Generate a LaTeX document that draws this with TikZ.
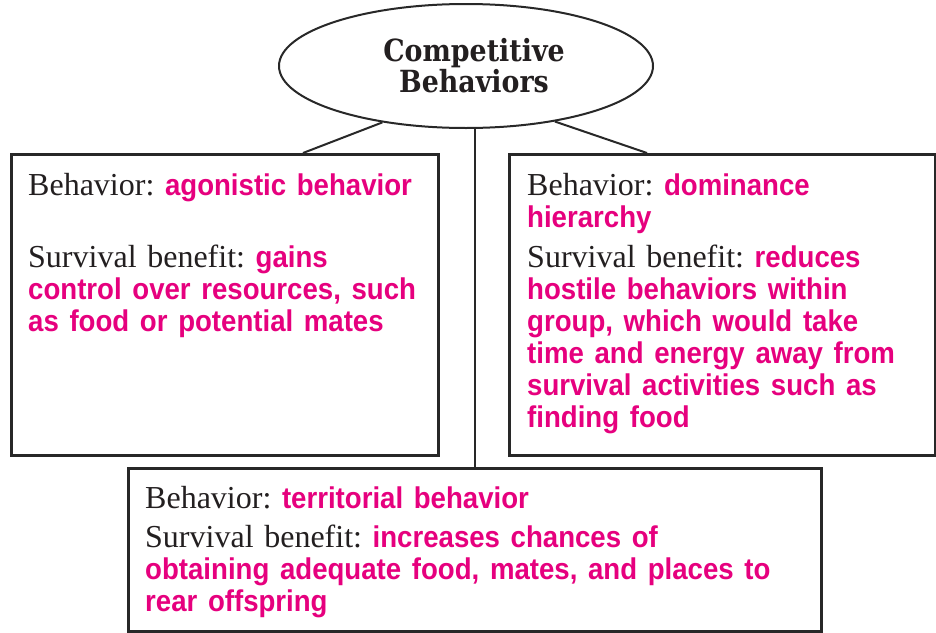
\documentclass[tikz,border=0pt]{standalone}
\usepackage{fontspec}
\setmainfont{Liberation Serif}
\newfontfamily\pinkfont{Liberation Sans}[FakeStretch=0.92]
\newfontfamily\titlefont{DejaVu Serif}[FakeStretch=0.88]
\usetikzlibrary{shapes.geometric,calc}
\definecolor{accent}{RGB}{230,0,126}
\definecolor{ink}{RGB}{35,31,32}
\definecolor{frame}{RGB}{40,40,40}
\frenchspacing
\newcommand{\pk}[1]{{\pinkfont\bfseries\fontsize{30}{32}\selectfont\color{accent}#1}}
\tikzset{
  boxnode/.style={draw=frame, line width=2.6pt, rectangle, anchor=north west, inner sep=0pt},
  txt/.style={anchor=base west, inner sep=0pt, text width=420pt, align=left,
    font=\frenchspacing\fontsize{32}{32}\selectfont, text=ink},
  link/.style={draw=frame, line width=2pt}
}
\begin{document}
\begin{tikzpicture}[x=1pt,y=-1pt]
\useasboundingbox[fill=white] (0,0) rectangle (936,632);
% boxes
\node[boxnode, minimum width=427pt, minimum height=301pt] (L) at (10,153) {};
\node[boxnode, minimum width=426pt, minimum height=301pt] (R) at (508,153) {};
\node[boxnode, minimum width=693pt, minimum height=163pt] (B) at (127,467) {};
% title ellipse
\node[ellipse, draw=frame, line width=2pt, fill=white, minimum width=374pt, minimum height=124pt,
  inner sep=0pt] (top) at (466,66) {};
\node[align=center, text=ink, inner sep=0pt,
  font=\titlefont\bfseries\fontsize{30.5}{31}\selectfont] (title) at (474,66) {Competitive\\Behaviors};
% connectors
\coordinate (Lj) at ($(L.north west)+(293pt,0)$);
\coordinate (Rj) at ($(R.north west)+(139pt,0)$);
\draw[link] (top.214) -- (Lj);
\draw[link] (top.328) -- (Rj);
\draw[link] (B.north) -- (B.north |- top.south);
% texts
\node[txt] (L1) at (28,195) {Behavior: \pk{agonistic behavior}};
\node[txt] (L2) at (28,267) {Survival benefit: \pk{gains}\\\pk{control over resources, such}\\\pk{as food or potential mates}};
\node[txt] (R1) at (527,195) {Behavior: \pk{dominance}\\\pk{hierarchy}};
\node[txt] (R2) at (527,267) {Survival benefit: \pk{reduces}\\\pk{hostile behaviors within}\\\pk{group, which would take}\\\pk{time and energy away from}\\\pk{survival activities such as}\\\pk{finding food}};
\node[txt] (B1) at (145,508) {Behavior: \pk{territorial behavior}};
\node[txt, text width=660pt] (B2) at (145,547) {Survival benefit: \pk{increases chances of}\\\pk{obtaining adequate food, mates, and places to}\\\pk{rear offspring}};
\end{tikzpicture}
\end{document}
